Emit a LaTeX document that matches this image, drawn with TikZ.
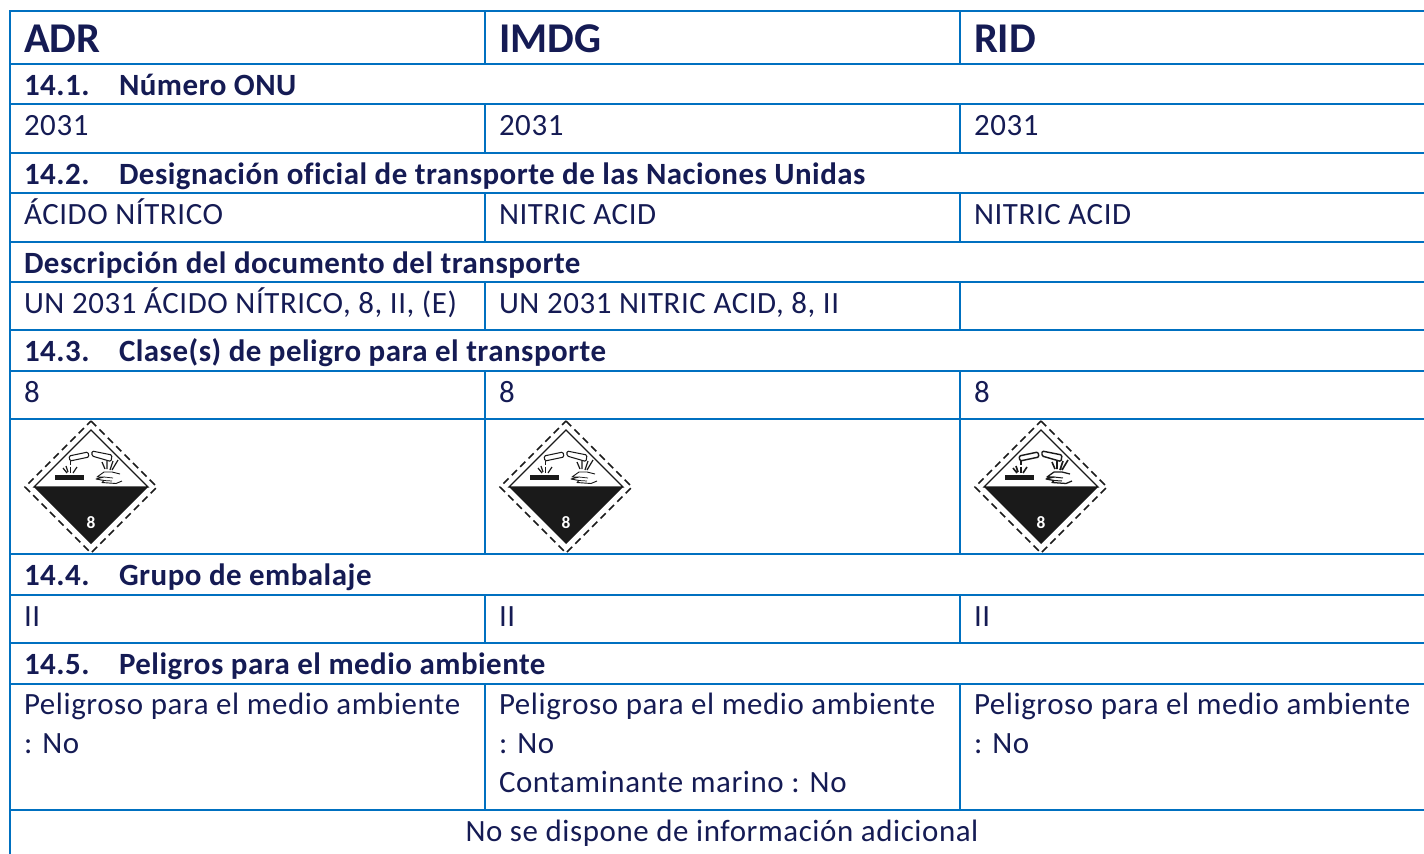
\documentclass[tikz,border=0pt]{standalone}
\usepackage{fontspec}
\setmainfont{Carlito}[Ligatures=NoCommon]
\newfontfamily\bodyfont{Carlito}[LetterSpace=1.9,Ligatures=NoCommon]
\newfontfamily\sectfont{Carlito}[BoldFont={Carlito Bold},LetterSpace=1.6,Ligatures=NoCommon]
\definecolor{rule}{HTML}{0070C0}
\definecolor{ink}{HTML}{151B54}
\definecolor{placard}{HTML}{1A1A1A}
\tikzset{
  x=0.75pt,y=-0.75pt,
  grid/.style={draw=rule,line width=1.5pt,line cap=rect},
  cell/.style={anchor=base west,inner sep=0pt,outer sep=0pt,text=ink,font=\fontsize{23.2pt}{29pt}\bodyfont},
  sect/.style={cell,font=\fontsize{23.2pt}{29pt}\sectfont\bfseries},
  head/.style={cell,font=\fontsize{31.8pt}{36pt}\selectfont\bfseries},
  pics/placard/.style={code={
    \draw[placard,line width=1.3pt,dash pattern=on 5.5pt off 3.4pt] (0,-66) -- (66,0) -- (0,66) -- (-66,0) -- cycle;
    \draw[placard,line width=0.9pt] (0,-57) -- (57,0) -- (-57,0) -- cycle;
    \fill[placard] (-57,0) -- (57,0) -- (0,57) -- cycle;
    \fill[placard] (-36.5,-12.5) rectangle (-7.5,-7.5);
    \draw[placard,line width=#1*0.8pt,rounded corners=1pt] (-22,-31) -- (-3,-35) -- (-2,-30) -- (-21,-26) -- cycle;
    \draw[placard,line width=#1*0.8pt,rounded corners=1pt] (1,-36) -- (21,-32) -- (20,-25.5) -- (1,-31) -- cycle;
    \draw[placard,line width=#1*1.1pt] (-20.5,-26) -- (-20.5,-22) (-20.5,-20.5) -- (-20.5,-14);
    \draw[placard,line width=#1*0.9pt] (-28,-19) -- (-24,-14) (-14,-20) -- (-18,-14) (-25,-21) -- (-23,-15);
    \draw[placard,line width=#1*0.9pt] (11,-25) -- (14,-18) (16,-26) -- (16,-18) (22,-26) -- (19,-17) (27,-27) -- (21,-17);
    \draw[placard,line width=#1*0.7pt,line join=round] (29,-13) -- (21,-15) -- (13,-15) -- (6,-10) -- (13,-10) -- (5,-8) -- (13,-6.5) -- (11,-4.5) -- (25,-3.5) -- (31,-6);
    \draw[placard,line width=#1*0.55pt] (13,-10) -- (22,-9) (13,-6.5) -- (21,-6);
    \node[inner sep=0pt,text=white,font=\fontsize{13pt}{14pt}\selectfont\bfseries] at (0,36) {8};
  }}
}
\begin{document}
\begin{tikzpicture}
\useasboundingbox (0,0) rectangle (1424,853);
% grid
\foreach \yy in {11,64,104,153,193,242,282,330,371,419,554,595,643,684,810}
  \draw[grid] (10,\yy) -- (1424,\yy);
\draw[grid] (10,11) -- (10,853);
\foreach \xx in {485,960}{
  \draw[grid] (\xx,11) -- (\xx,64);
  \draw[grid] (\xx,104) -- (\xx,153);
  \draw[grid] (\xx,193) -- (\xx,242);
  \draw[grid] (\xx,282) -- (\xx,330);
  \draw[grid] (\xx,371) -- (\xx,554);
  \draw[grid] (\xx,595) -- (\xx,643);
  \draw[grid] (\xx,684) -- (\xx,810);
}
% header
\node[head] (h1) at (24,52) {ADR};
\node[head] (h2) at (499,52) {IMDG};
\node[head] (h3) at (974,52) {RID};
% 14.1
\node[sect] (s1n) at (24,95) {14.1.};
\node[sect] (s1) at (119,95) {Número ONU};
\node[cell] (a1) at (24,135) {2031};
\node[cell] (b1) at (499,135) {2031};
\node[cell] (c1) at (974,135) {2031};
% 14.2
\node[sect] (s2n) at (24,184) {14.2.};
\node[sect] (s2) at (119,184) {Designación oficial de transporte de las Naciones Unidas};
\node[cell] (a2) at (24,224) {ÁCIDO NÍTRICO};
\node[cell] (b2) at (499,224) {NITRIC ACID};
\node[cell] (c2) at (974,224) {NITRIC ACID};
% description
\node[sect] (s3) at (24,273) {Descripción del documento del transporte};
\node[cell] (a3) at (24,313) {UN 2031 ÁCIDO NÍTRICO, 8, II, (E)};
\node[cell] (b3) at (499,313) {UN 2031 NITRIC ACID, 8, II};
% 14.3
\node[sect] (s4n) at (24,361) {14.3.};
\node[sect] (s4) at (119,361) {Clase(s) de peligro para el transporte};
\node[cell] (a4) at (24,402) {8};
\node[cell] (b4) at (499,402) {8};
\node[cell] (c4) at (974,402) {8};
% placards
\pic at (91,487) {placard=1};
\pic at (566,487) {placard=1};
\pic at (1041,487) {placard=1.35};
% 14.4
\node[sect] (s5n) at (24,585) {14.4.};
\node[sect] (s5) at (119,585) {Grupo de embalaje};
\node[cell] (a5) at (24,626) {II};
\node[cell] (b5) at (499,626) {II};
\node[cell] (c5) at (974,626) {II};
% 14.5
\node[sect] (s6n) at (24,674) {14.5.};
\node[sect] (s6) at (119,674) {Peligros para el medio ambiente};
\node[cell] (a6) at (24,714) {Peligroso para el medio ambiente};
\node[cell] (a7) at (24,753) {: No};
\node[cell] (b6) at (499,714) {Peligroso para el medio ambiente};
\node[cell] (b7) at (499,753) {: No};
\node[cell] (b8) at (499,792) {Contaminante marino : No};
\node[cell] (c6) at (974,714) {Peligroso para el medio ambiente};
\node[cell] (c7) at (974,753) {: No};
% footer
\node[cell,anchor=base] (f) at (722,841) {No se dispone de información adicional};
\end{tikzpicture}
\end{document}
